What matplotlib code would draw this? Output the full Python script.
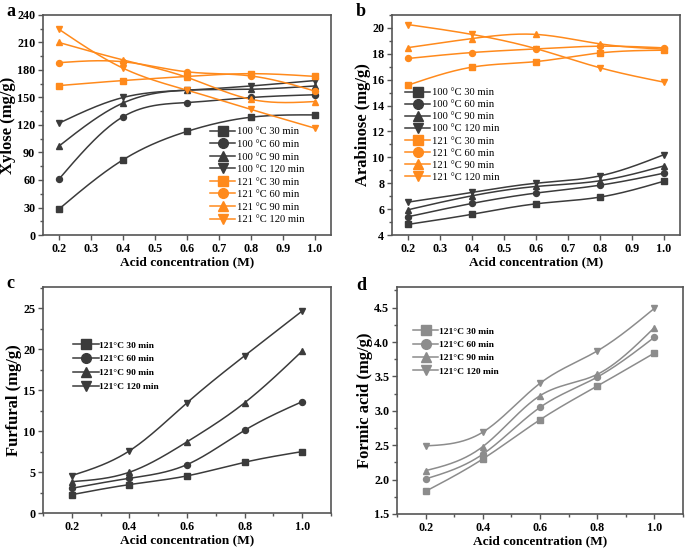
import numpy as np
import matplotlib
matplotlib.use("Agg")
import matplotlib.pyplot as plt
from matplotlib.ticker import MultipleLocator

plt.rcParams['font.family'] = ['Liberation Serif', 'DejaVu Serif']

# ---------------- data ----------------
acid = [0.2, 0.4, 0.6, 0.8, 1.0]

xyl_labels = ['100 \u00b0C 30 min', '100 \u00b0C 60 min', '100 \u00b0C 90 min', '100 \u00b0C 120 min',
              '121 \u00b0C 30 min', '121 \u00b0C 60 min', '121 \u00b0C 90 min', '121 \u00b0C 120 min']
xyl_100_30 = [28.3, 82, 113, 128.5, 131]
xyl_100_60 = [61, 129, 144.5, 150, 153]
xyl_100_90 = [97, 144, 158, 159, 162.6]
xyl_100_120 = [122, 150, 158, 162.6, 168.5]
xyl_121_30 = [163, 168.5, 173, 176, 173]
xyl_121_60 = [188, 189, 178, 173.5, 157]
xyl_121_90 = [210, 191, 172, 148, 145.6]
xyl_121_120 = [224.4, 182, 158, 137, 116.5]

ara_100_30 = [4.82, 5.6, 6.41, 6.93, 8.16]
ara_100_60 = [5.41, 6.44, 7.24, 7.85, 8.78]
ara_100_90 = [5.95, 7.03, 7.75, 8.19, 9.34]
ara_100_120 = [6.54, 7.29, 8.0, 8.57, 10.21]
ara_121_30 = [15.58, 16.97, 17.4, 18.07, 18.28]
ara_121_60 = [17.64, 18.1, 18.38, 18.59, 18.46]
ara_121_90 = [18.48, 19.18, 19.5, 18.77, 18.36]
ara_121_120 = [20.26, 19.5, 18.4, 16.92, 15.81]

cd_labels = ['121\u00b0C 30 min', '121\u00b0C 60 min', '121\u00b0C 90 min', '121\u00b0C 120 min']
fur_30 = [2.24, 3.47, 4.53, 6.2, 7.5]
fur_60 = [3.02, 4.24, 5.91, 10.1, 13.6]
fur_90 = [3.83, 4.98, 8.69, 13.46, 19.78]
fur_120 = [4.57, 7.59, 13.46, 19.2, 24.67]

form_30 = [1.83, 2.30, 2.87, 3.36, 3.84]
form_60 = [2.01, 2.37, 3.05, 3.49, 4.07]
form_90 = [2.13, 2.48, 3.22, 3.53, 4.21]
form_120 = [2.49, 2.69, 3.40, 3.87, 4.49]

DARK = '#3b3b3b'
ORANGE = '#ff8a1c'
GRAY = '#8c8c8c'
markers = ['s', 'o', '^', 'v']


def spline(x, y, n=200):
    """Natural cubic spline through the data points (for a smooth line only)."""
    x = np.asarray(x, float)
    y = np.asarray(y, float)
    k = len(x)
    h = np.diff(x)
    A = np.zeros((k, k))
    b = np.zeros(k)
    A[0, 0] = 1
    A[-1, -1] = 1
    for i in range(1, k - 1):
        A[i, i - 1] = h[i - 1]
        A[i, i] = 2 * (h[i - 1] + h[i])
        A[i, i + 1] = h[i]
        b[i] = 3 * ((y[i + 1] - y[i]) / h[i] - (y[i] - y[i - 1]) / h[i - 1])
    c = np.linalg.solve(A, b)
    xs = np.linspace(x[0], x[-1], n)
    ys = np.empty_like(xs)
    for j, xv in enumerate(xs):
        i = min(np.searchsorted(x, xv, side='right') - 1, k - 2)
        dx = xv - x[i]
        bi = (y[i + 1] - y[i]) / h[i] - h[i] * (2 * c[i] + c[i + 1]) / 3
        di = (c[i + 1] - c[i]) / (3 * h[i])
        ys[j] = y[i] + bi * dx + c[i] * dx ** 2 + di * dx ** 3
    return xs, ys


def series(ax, y, color, marker, label, ms=4.3, lms=7):
    xs, ys = spline(acid, y)
    ax.plot(xs, ys, color=color, lw=1.1, zorder=2)
    ax.plot(acid, y, ls='none', marker=marker, color=color, ms=ms, zorder=3)
    ax.plot([], [], color=color, lw=1.1, marker=marker, ms=lms, label=label)


def style(ax, ylabel):
    for s in ax.spines.values():
        s.set_color('#555555')
        s.set_linewidth(1.2)
    ax.tick_params(which='both', direction='out', color='#555555', width=1.0)
    ax.tick_params(which='major', length=3.5, labelsize=8.7, pad=2)
    ax.tick_params(which='minor', length=2)
    for lab in ax.get_xticklabels() + ax.get_yticklabels():
        lab.set_fontweight('bold')
    ax.set_xlabel('Acid concentration (M)', fontsize=9.6, fontweight='bold', labelpad=1)
    ax.set_ylabel(ylabel, fontsize=12, fontweight='bold', labelpad=1)


fig = plt.figure(figsize=(6.85, 5.48), dpi=100)
W, H = 685, 548


def axes_px(l, t, r, b):
    return fig.add_axes([l / W, 1 - b / H, (r - l) / W, (b - t) / H])


def legend_px(ax, x, y, **kw):
    return ax.legend(loc='upper left', bbox_to_anchor=(x / W, 1 - y / H),
                     bbox_transform=fig.transFigure, frameon=False, borderpad=0,
                     borderaxespad=0, **kw)


# ---------- a ----------
axa = axes_px(43, 15, 331, 235)
for y, m, lab in zip([xyl_100_30, xyl_100_60, xyl_100_90, xyl_100_120], markers, xyl_labels[:4]):
    series(axa, y, DARK, m, lab)
for y, m, lab in zip([xyl_121_30, xyl_121_60, xyl_121_90, xyl_121_120], markers, xyl_labels[4:]):
    series(axa, y, ORANGE, m, lab)
axa.set_xlim(0.15, 1.05)
axa.set_ylim(0, 240)
axa.xaxis.set_major_locator(MultipleLocator(0.1))
axa.yaxis.set_major_locator(MultipleLocator(30))
axa.yaxis.set_minor_locator(MultipleLocator(15))
style(axa, 'Xylose (mg/g)')
legend_px(axa, 210, 127, fontsize=7.6, handlelength=2.4, handletextpad=0.15, labelspacing=0.3)

# ---------- b ----------
axb = axes_px(392, 15, 680, 235)
for y, m, lab in zip([ara_100_30, ara_100_60, ara_100_90, ara_100_120], markers, xyl_labels[:4]):
    series(axb, y, DARK, m, lab)
for y, m, lab in zip([ara_121_30, ara_121_60, ara_121_90, ara_121_120], markers, xyl_labels[4:]):
    series(axb, y, ORANGE, m, lab)
axb.set_xlim(0.15, 1.05)
axb.set_ylim(4, 21)
axb.xaxis.set_major_locator(MultipleLocator(0.1))
axb.yaxis.set_major_locator(MultipleLocator(2))
axb.yaxis.set_minor_locator(MultipleLocator(1))
style(axb, 'Arabinose (mg/g)')
legend_px(axb, 405, 88, fontsize=7.6, handlelength=2.4, handletextpad=0.15, labelspacing=0.25)

# ---------- c ----------
axc = axes_px(43, 287, 331, 513)
for y, m, lab in zip([fur_30, fur_60, fur_90, fur_120], markers, cd_labels):
    series(axc, y, DARK, m, lab)
axc.set_xlim(0.1, 1.1)
axc.set_ylim(0, 27.6)
axc.xaxis.set_major_locator(MultipleLocator(0.2))
axc.xaxis.set_minor_locator(MultipleLocator(0.1))
axc.yaxis.set_major_locator(MultipleLocator(5))
axc.yaxis.set_minor_locator(MultipleLocator(2.5))
style(axc, 'Furfural (mg/g)')
legend_px(axc, 73, 341, prop={'size': 6.8, 'weight': 'bold'},
          handlelength=2.7, handletextpad=0.05, labelspacing=0.55)

# ---------- d ----------
axd = axes_px(397, 287, 683, 514)
for y, m, lab in zip([form_30, form_60, form_90, form_120], markers, cd_labels):
    series(axd, y, GRAY, m, lab)
axd.set_xlim(0.1, 1.1)
axd.set_ylim(1.5, 4.8)
axd.xaxis.set_major_locator(MultipleLocator(0.2))
axd.xaxis.set_minor_locator(MultipleLocator(0.1))
axd.yaxis.set_major_locator(MultipleLocator(0.5))
axd.yaxis.set_minor_locator(MultipleLocator(0.25))
style(axd, 'Formic acid (mg/g)')
legend_px(axd, 413, 327, prop={'size': 6.8, 'weight': 'bold'},
          handlelength=2.7, handletextpad=0.05, labelspacing=0.5)

# panel letters
for txt, x, y in [('a', 6, 3), ('b', 356, 3), ('c', 6, 275), ('d', 356, 277)]:
    fig.text(x / W, 1 - y / H, txt, fontsize=13, fontweight='bold', va='top', ha='left')

fig.savefig('out.png', dpi=100)
